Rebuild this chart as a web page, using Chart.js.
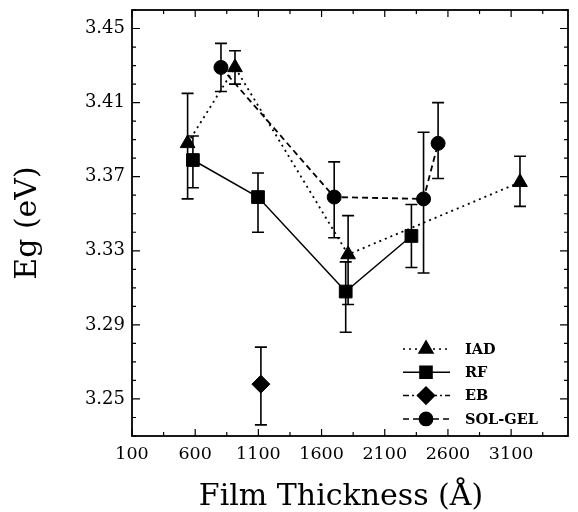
<!DOCTYPE html>
<html>
<head>
<meta charset="utf-8">
<script src="https://cdn.jsdelivr.net/npm/chart.js@4"></script>
<style>
html, body { margin: 0; padding: 0; background: #fff; }
</style>
</head>
<body>
<canvas id="myChart" width="578" height="512"></canvas>
<script>
// tick labels
const xTickLabels = ['100', '600', '1100', '1600', '2100', '2600', '3100'];
const yTickLabels = ['3.25', '3.29', '3.33', '3.37', '3.41', '3.45'];

// IAD
const iadX = [540, 915, 1810, 3170];
const iadY = [3.388, 3.429, 3.328, 3.367];
const iadHi = [3.415, 3.438, 3.349, 3.381];
const iadLo = [3.358, 3.420, 3.301, 3.354];

// RF
const rfX = [582, 1097, 1791, 2311];
const rfY = [3.379, 3.359, 3.308, 3.338];
const rfHi = [3.392, 3.372, 3.324, 3.355];
const rfLo = [3.364, 3.340, 3.286, 3.321];

// EB
const ebX = [1120];
const ebY = [3.258];
const ebHi = [3.278];
const ebLo = [3.236];

// SOL-GEL
const solX = [804, 1700, 2407, 2522];
const solY = [3.429, 3.359, 3.358, 3.388];
const solHi = [3.442, 3.378, 3.394, 3.410];
const solLo = [3.416, 3.337, 3.318, 3.369];

const xTitle = 'Film Thickness (Å)';
const serif = '"DejaVu Serif", serif';

function pts(xs, ys) {
	return xs.map((x, i) => ({x: x, y: ys[i]}));
}

function series(label, xs, ys, hi, lo, style, radius, dash, line) {
	return {
		label: label,
		data: pts(xs, ys),
		errHi: hi,
		errLo: lo,
		showLine: line,
		borderColor: '#000',
		backgroundColor: '#000',
		borderWidth: dash.length ? 1.8 : 1.5,
		borderDash: dash,
		pointStyle: style,
		pointRadius: radius,
		pointHoverRadius: radius,
		pointBorderWidth: 1,
		pointBackgroundColor: '#000',
		pointBorderColor: '#000',
		legendDash: dash
	};
}

const errorBars = {
	id: 'errorBars',
	beforeDatasetsDraw(chart) {
		const {ctx, scales: {x, y}} = chart;
		ctx.save();
		ctx.strokeStyle = '#000';
		ctx.lineWidth = 1.6;
		chart.data.datasets.forEach(ds => {
			ds.data.forEach((p, i) => {
				const px = x.getPixelForValue(p.x);
				const top = y.getPixelForValue(ds.errHi[i]);
				const bot = y.getPixelForValue(ds.errLo[i]);
				ctx.beginPath();
				ctx.moveTo(px, top); ctx.lineTo(px, bot);
				ctx.moveTo(px - 6, top); ctx.lineTo(px + 6, top);
				ctx.moveTo(px - 6, bot); ctx.lineTo(px + 6, bot);
				ctx.stroke();
			});
		});
		ctx.restore();
	}
};

const frameTicks = {
	id: 'frameTicks',
	afterDraw(chart) {
		const {ctx, chartArea: a, scales: {x, y}} = chart;
		ctx.save();
		ctx.strokeStyle = '#000';
		ctx.lineWidth = 1.8;
		ctx.strokeRect(a.left, a.top, a.right - a.left, a.bottom - a.top);
		ctx.lineWidth = 1.2;
		ctx.beginPath();
		for (let v = 100; v < 3550; v += 250) {
			const px = x.getPixelForValue(v);
			const len = (v - 100) % 500 === 0 ? 7 : 4;
			ctx.moveTo(px, a.bottom); ctx.lineTo(px, a.bottom - len);
			ctx.moveTo(px, a.top); ctx.lineTo(px, a.top + len);
		}
		for (let k = 0; k <= 23; k++) {
			const v = 3.23 + k * 0.01;
			const py = y.getPixelForValue(v);
			const len = (k - 2) % 4 === 0 ? 8 : 4;
			ctx.moveTo(a.left, py); ctx.lineTo(a.left + len, py);
			ctx.moveTo(a.right, py); ctx.lineTo(a.right - len, py);
		}
		ctx.stroke();

		// x axis title, sits a little left of the plot centre
		ctx.fillStyle = '#000';
		ctx.font = '30px ' + serif;
		ctx.textAlign = 'center';
		ctx.textBaseline = 'alphabetic';
		ctx.fillText(xTitle, (a.left + a.right) / 2 - 9, chart.height - 7);
		ctx.restore();
	}
};

const lineLegend = {
	id: 'lineLegend',
	afterDraw(chart) {
		const {ctx, chartArea: a} = chart;
		ctx.save();
		chart.data.datasets.forEach((ds, i) => {
			const yy = a.bottom - 87 + i * 23.3;
			const x0 = a.right - 165;
			ctx.strokeStyle = '#000';
			ctx.lineWidth = 1.5;
			ctx.setLineDash(ds.legendDash);
			ctx.beginPath();
			ctx.moveTo(x0, yy); ctx.lineTo(x0 + 47, yy);
			ctx.stroke();
			ctx.setLineDash([]);
			Chart.helpers.drawPoint(ctx, {
				pointStyle: ds.pointStyle,
				radius: ds.pointRadius * 0.95,
				rotation: 0,
				borderWidth: 1
			}, x0 + 23, yy);
			ctx.fillStyle = '#000';
			ctx.font = 'bold 14.5px ' + serif;
			ctx.textBaseline = 'middle';
			ctx.fillText(ds.label, x0 + 62, yy + 1);
		});
		ctx.restore();
	}
};

const ctx = document.getElementById('myChart');
const plot = new Chart(ctx, {
	type: 'scatter',
	data: {
		datasets: [
			series('IAD', iadX, iadY, iadHi, iadLo, 'triangle', 8.5, [2, 4], true),
			series('RF', rfX, rfY, rfHi, rfLo, 'rect', 9, [], true),
			series('EB', ebX, ebY, ebHi, ebLo, 'rectRot', 9, [6, 3, 2, 3], false),
			series('SOL-GEL', solX, solY, solHi, solLo, 'circle', 7, [6, 4], true)
		]
	},
	options: {
		responsive: false,
		animation: false,
		devicePixelRatio: 1,
		layout: { padding: { left: 0, right: 5, top: 9, bottom: 0 } },
		plugins: {
			legend: { display: false },
			tooltip: { enabled: false }
		},
		scales: {
			x: {
				type: 'linear',
				min: 100,
				max: 3550,
				afterBuildTicks: s => { s.ticks = xTickLabels.map(t => ({value: Number(t)})); },
				afterFit: s => { s.height = 76; s.paddingLeft = 0; s.paddingRight = 0; },
				grid: { display: false, drawTicks: false },
				border: { display: false },
				ticks: {
					color: '#000',
					padding: 8,
					maxRotation: 0,
					autoSkip: false,
					font: { family: serif, size: 17.5 },
					callback: v => String(v)
				},
				title: { display: false }
			},
			y: {
				min: 3.23,
				max: 3.46,
				afterBuildTicks: s => { s.ticks = yTickLabels.map(t => ({value: Number(t)})); },
				afterFit: s => { s.width = 132; s.paddingTop = 0; s.paddingBottom = 0; },
				grid: { display: false, drawTicks: false },
				border: { display: false },
				ticks: {
					color: '#000',
					padding: 7,
					autoSkip: false,
					font: { family: serif, size: 18 },
					callback: v => v.toFixed(2)
				},
				title: {
					display: true,
					text: 'Eg (eV)',
					color: '#000',
					font: { family: serif, size: 30 },
					padding: { top: 10, bottom: 0 }
				}
			}
		}
	},
	plugins: [errorBars, frameTicks, lineLegend]
});
</script>
</body>
</html>
